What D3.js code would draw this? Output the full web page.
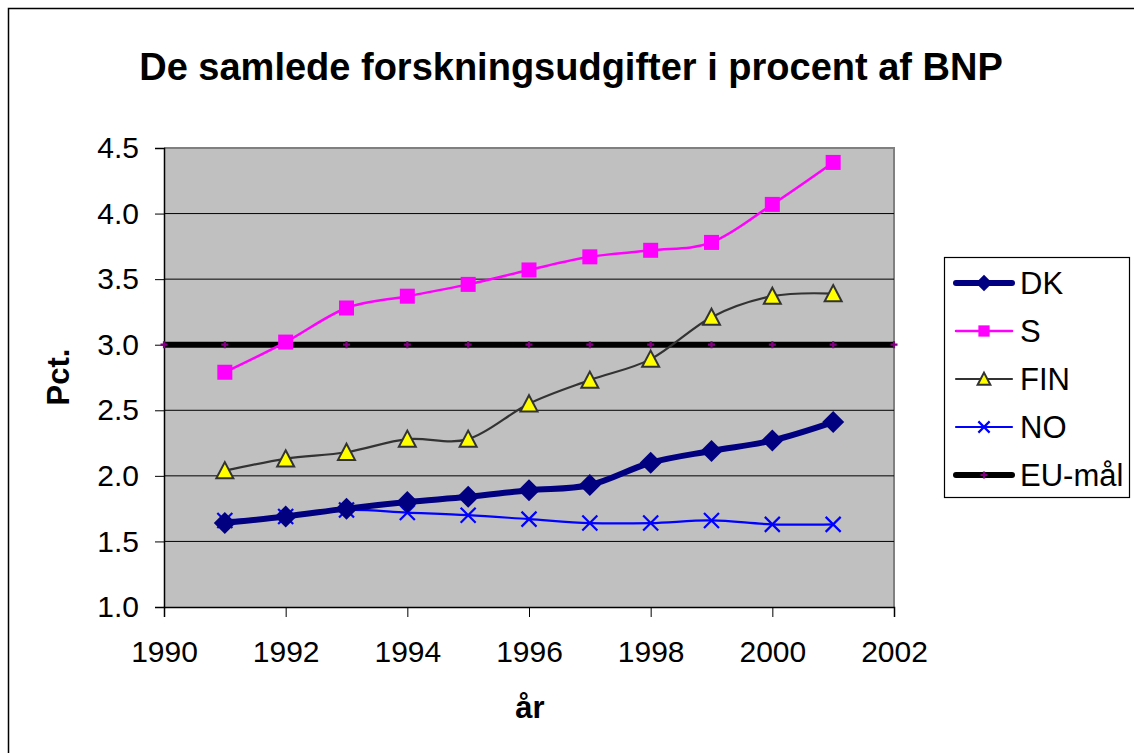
<!DOCTYPE html>
<html>
<head>
<meta charset="utf-8">
<script src="https://cdn.jsdelivr.net/npm/d3@7"></script>
<style>
  body { margin: 0; background: #fff; }
  text { font-family: "Liberation Sans", Arial, sans-serif; }
</style>
</head>
<body>
<div class="chart1"></div>
<script>
// data
var years = [1991, 1992, 1993, 1994, 1995, 1996, 1997, 1998, 1999, 2000, 2001];
var dk  = [1.64, 1.69, 1.75, 1.80, 1.84, 1.89, 1.93, 2.10, 2.19, 2.27, 2.41];
var s   = [2.79, 3.02, 3.28, 3.37, 3.46, 3.57, 3.67, 3.72, 3.78, 4.07, 4.39];
var fin = [2.04, 2.13, 2.18, 2.28, 2.28, 2.55, 2.73, 2.89, 3.21, 3.37, 3.39];
var no  = [1.66, 1.69, 1.74, 1.72, 1.70, 1.67, 1.64, 1.64, 1.66, 1.63, 1.63];
var euYears = [1990, 1991, 1992, 1993, 1994, 1995, 1996, 1997, 1998, 1999, 2000, 2001, 2002];
var euGoal = 3.0;
var xTicks = [1990, 1992, 1994, 1996, 1998, 2000, 2002];
var yTicks = [1.0, 1.5, 2.0, 2.5, 3.0, 3.5, 4.0, 4.5];
var seriesNames = ["DK", "S", "FIN", "NO", "EU-mål"];

var W = 1134, H = 753;
var svg = d3.select(".chart1").append("svg").attr("width", W).attr("height", H);

// outer chart border (runs off the right/bottom edge like the reference)
svg.append("rect").attr("x", 8.5).attr("y", 8.5).attr("width", 1140).attr("height", 760)
  .attr("fill", "#fff").attr("stroke", "#000").attr("stroke-width", 1.5);

svg.append("text").attr("x", 571).attr("y", 80).attr("text-anchor", "middle")
  .attr("font-size", 38).attr("font-weight", "bold")
  .text("De samlede forskningsudgifter i procent af BNP");

var L = 164, T = 148, R = 894, B = 607;
var x = d3.scaleLinear().domain([1990, 2002]).range([L, R]);
var y = d3.scaleLinear().domain([1.0, 4.5]).range([B, T]);

// plot area
svg.append("rect").attr("x", L).attr("y", T).attr("width", R - L).attr("height", B - T)
  .attr("fill", "#c0c0c0");
svg.append("path").attr("d", "M" + L + "," + T + "H" + R + "V" + B)
  .attr("fill", "none").attr("stroke", "#808080").attr("stroke-width", 2);

svg.append("g").selectAll("line").data(yTicks.slice(1, -1)).join("line")
  .attr("x1", L).attr("x2", R).attr("y1", function(d){ return y(d); }).attr("y2", function(d){ return y(d); })
  .attr("stroke", "#000").attr("stroke-width", 1);

var yAxis = svg.append("g").attr("transform", "translate(" + L + ",0)")
  .call(d3.axisLeft(y).tickValues(yTicks).tickFormat(d3.format(".1f")).tickSize(9).tickPadding(16));
var xAxis = svg.append("g").attr("transform", "translate(0," + B + ")")
  .call(d3.axisBottom(x).tickValues(xTicks).tickFormat(d3.format("d")).tickSize(10).tickPadding(24));
[yAxis, xAxis].forEach(function(a){
  a.select(".domain").attr("stroke", "#000").attr("stroke-width", 1.5);
  a.selectAll(".tick line").attr("stroke", "#000");
  a.selectAll("text").attr("font-size", 30).attr("fill", "#000")
    .attr("font-family", "'Liberation Sans', Arial, sans-serif");
});

svg.append("text").attr("transform", "translate(69,377) rotate(-90)").attr("text-anchor", "middle")
  .attr("font-size", 31).attr("font-weight", "bold").text("Pct.");
svg.append("text").attr("x", 530).attr("y", 718).attr("text-anchor", "middle")
  .attr("font-size", 31).attr("font-weight", "bold").text("år");

var line = d3.line().x(function(d){ return x(d[0]); }).y(function(d){ return y(d[1]); })
  .curve(d3.curveCardinal.tension(0));

var styles = {
  "DK":     { stroke: "#000080", width: 6, marker: "diamond" },
  "S":      { stroke: "#ff00ff", width: 2.5, marker: "square" },
  "FIN":    { stroke: "#333333", width: 2.2, marker: "triangle" },
  "NO":     { stroke: "#0000ff", width: 2.2, marker: "cross" },
  "EU-mål": { stroke: "#000000", width: 6, marker: "plus" }
};

function drawMarker(g, kind, cx, cy, big) {
  var k = big ? 1 : 0.75;
  if (kind === "diamond") {
    var r = 11 * k;
    g.append("path").attr("d", "M" + cx + "," + (cy - r) + "L" + (cx + r) + "," + cy + "L" + cx + "," + (cy + r) + "L" + (cx - r) + "," + cy + "Z")
      .attr("fill", "#000080");
  } else if (kind === "square") {
    var h = 7.5 * k;
    g.append("rect").attr("x", cx - h).attr("y", cy - h).attr("width", 2 * h).attr("height", 2 * h)
      .attr("fill", "#ff00ff");
  } else if (kind === "triangle") {
    var t = 8.5 * k;
    g.append("path").attr("d", "M" + cx + "," + (cy - t) + "L" + (cx + t) + "," + (cy + t * 0.9) + "L" + (cx - t) + "," + (cy + t * 0.9) + "Z")
      .attr("fill", "#ffff00").attr("stroke", "#333").attr("stroke-width", 2);
  } else if (kind === "cross") {
    var c = 7.5 * k;
    g.append("path").attr("d", "M" + (cx - c) + "," + (cy - c) + "L" + (cx + c) + "," + (cy + c) + "M" + (cx - c) + "," + (cy + c) + "L" + (cx + c) + "," + (cy - c))
      .attr("stroke", "#0000ff").attr("stroke-width", 2.2);
  } else if (kind === "plus") {
    var p = 3.5;
    g.append("path").attr("d", "M" + (cx - p) + "," + cy + "H" + (cx + p) + "M" + cx + "," + (cy - p) + "V" + (cy + p))
      .attr("stroke", "#800080").attr("stroke-width", 2.2);
  }
}

var seriesData = {
  "DK":  d3.zip(years, dk),
  "S":   d3.zip(years, s),
  "FIN": d3.zip(years, fin),
  "NO":  d3.zip(years, no),
  "EU-mål": euYears.map(function(yr){ return [yr, euGoal]; })
};

var drawOrder = ["EU-mål", "NO", "FIN", "S", "DK"];
drawOrder.forEach(function(name){
  var st = styles[name], data = seriesData[name];
  var g = svg.append("g");
  g.append("path").attr("d", line(data)).attr("fill", "none")
    .attr("stroke", st.stroke).attr("stroke-width", st.width).attr("stroke-linejoin", "round");
  data.forEach(function(d){ drawMarker(g, st.marker, x(d[0]), y(d[1]), true); });
});

// legend
var lg = svg.append("g");
lg.append("rect").attr("x", 944.5).attr("y", 257.5).attr("width", 185).attr("height", 240)
  .attr("fill", "#fff").attr("stroke", "#000").attr("stroke-width", 1.2);
seriesNames.forEach(function(name, i){
  var st = styles[name], cy = 283 + i * 48;
  lg.append("line").attr("x1", 956).attr("x2", 1012).attr("y1", cy).attr("y2", cy)
    .attr("stroke", st.stroke).attr("stroke-width", st.width).attr("stroke-linecap", "round");
  drawMarker(lg, st.marker, 984, cy, false);
  lg.append("text").attr("x", 1020).attr("y", cy + 11).attr("font-size", 31).text(name);
});
</script>
</body>
</html>
